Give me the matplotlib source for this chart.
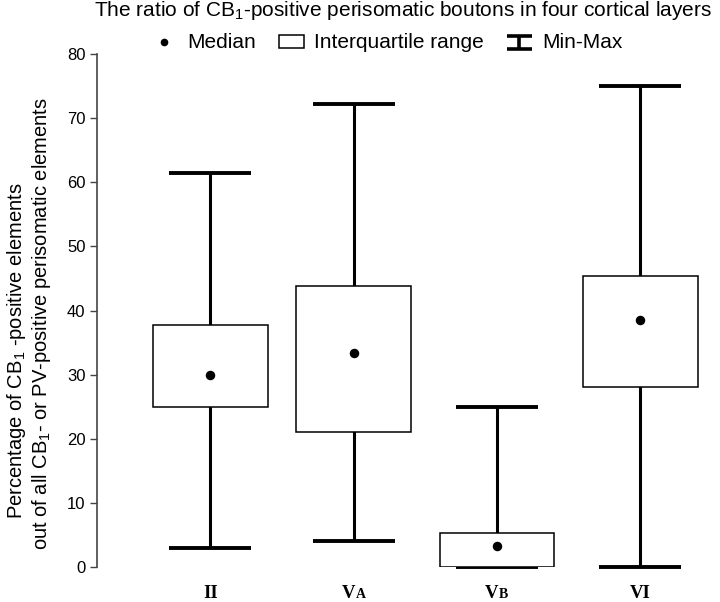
import numpy as np
import matplotlib
matplotlib.use('Agg')
import matplotlib.pyplot as plt
from matplotlib.lines import Line2D
from matplotlib.patches import Patch
from matplotlib.path import Path

plt.rcParams['font.family'] = ['Liberation Sans', 'DejaVu Sans']
plt.rcParams['mathtext.fontset'] = 'custom'
plt.rcParams['mathtext.rm'] = 'Liberation Sans'
plt.rcParams['mathtext.it'] = 'Liberation Sans'

# data (percent)
layers = ['II', 'VA', 'VB', 'VI']
mins = [3.0, 4.0, 0.0, 0.0]
q1 = [25.0, 21.0, 0.0, 28.0]
medians = [30.0, 33.3, 3.3, 38.5]
q3 = [37.8, 43.8, 5.3, 45.4]
maxs = [61.5, 72.2, 25.0, 75.0]

x = np.arange(1, len(layers) + 1)
mins = np.array(mins)
maxs = np.array(maxs)
mid = (mins + maxs) / 2

fig = plt.figure(figsize=(7.2, 6.02), dpi=100)
ax = fig.add_axes([0.135, 0.0581, 0.854, 0.8522])

# min-max whiskers
eb = ax.errorbar(x, mid, yerr=(maxs - mins) / 2, fmt='none', ecolor='black',
                 elinewidth=2.2, capsize=29.5, capthick=2.8, zorder=2)
for cap in eb[1]:
    cap.set_clip_on(False)
# interquartile boxes
ax.bar(x, np.array(q3) - np.array(q1), bottom=q1, width=0.8,
       facecolor='white', edgecolor='black', linewidth=1.1, zorder=3)
# medians
ax.scatter(x, medians, s=34, color='black', zorder=4)

ax.set_xlim(0.21, 4.5)
ax.set_ylim(0, 80)
ax.set_yticks(np.arange(0, 81, 10))
ax.tick_params(axis='y', direction='out', length=5, width=1, labelsize=12,
               color='#444444')
ax.set_xticks([])
for s in ['top', 'right', 'bottom']:
    ax.spines[s].set_visible(False)
ax.spines['left'].set_color('#444444')
ax.spines['left'].set_linewidth(1.2)

# layer labels (small-caps style second letter)
for xi, lab in zip(x, layers):
    if len(lab) == 2 and lab[1] in 'AB':
        ax.annotate('V', (xi, 0), xycoords=('data', 'axes fraction'),
                    xytext=(1.2, -19), textcoords='offset points', ha='right',
                    va='center', family='Liberation Serif', weight='bold',
                    fontsize=13.5)
        ax.annotate(lab[1], (xi, 0), xycoords=('data', 'axes fraction'),
                    xytext=(1.2, -19.8), textcoords='offset points', ha='left',
                    va='center', family='Liberation Serif', weight='bold',
                    fontsize=10)
    else:
        ax.annotate(lab, (xi, 0), xycoords=('data', 'axes fraction'),
                    xytext=(0, -19), textcoords='offset points', ha='center',
                    va='center', family='Liberation Serif', weight='bold',
                    fontsize=13.5)

fig.text(403 / 720, 1 - 11 / 602,
         r'The ratio of CB$_1$-positive perisomatic boutons in four cortical layers',
         ha='center', va='center', fontsize=15)

fig.text(17 / 720, 1 - 351 / 602, r'Percentage of CB$_1$ -positive elements',
         rotation=90, ha='center', va='center', fontsize=14.5)
fig.text(42 / 720, 1 - 324 / 602,
         r'out of all CB$_1$- or PV-positive perisomatic elements',
         rotation=90, ha='center', va='center', fontsize=14.5)

# legend proxies
ibeam = Path([(-1, 0.52), (1, 0.52), (0, 0.52), (0, -0.52), (-1, -0.52), (1, -0.52)],
             [Path.MOVETO, Path.LINETO, Path.MOVETO, Path.LINETO, Path.MOVETO, Path.LINETO])
h_med = Line2D([], [], linestyle='none', marker='o', markersize=4.5, color='black')
h_box = Patch(facecolor='white', edgecolor='black', linewidth=1.1)
h_mm = Line2D([], [], linestyle='none', marker=ibeam, markersize=18,
              markeredgewidth=2.6, color='black', markerfacecolor='none')
fig.legend([h_med, h_box, h_mm], ['Median', 'Interquartile range', 'Min-Max'],
           loc='center', bbox_to_anchor=(387 / 720, 1 - 43 / 602), ncol=3,
           frameon=False, fontsize=15, handlelength=1.2, handleheight=0.6,
           handletextpad=0.5, columnspacing=1.1, borderpad=0)

fig.savefig('out.png', dpi=100)
